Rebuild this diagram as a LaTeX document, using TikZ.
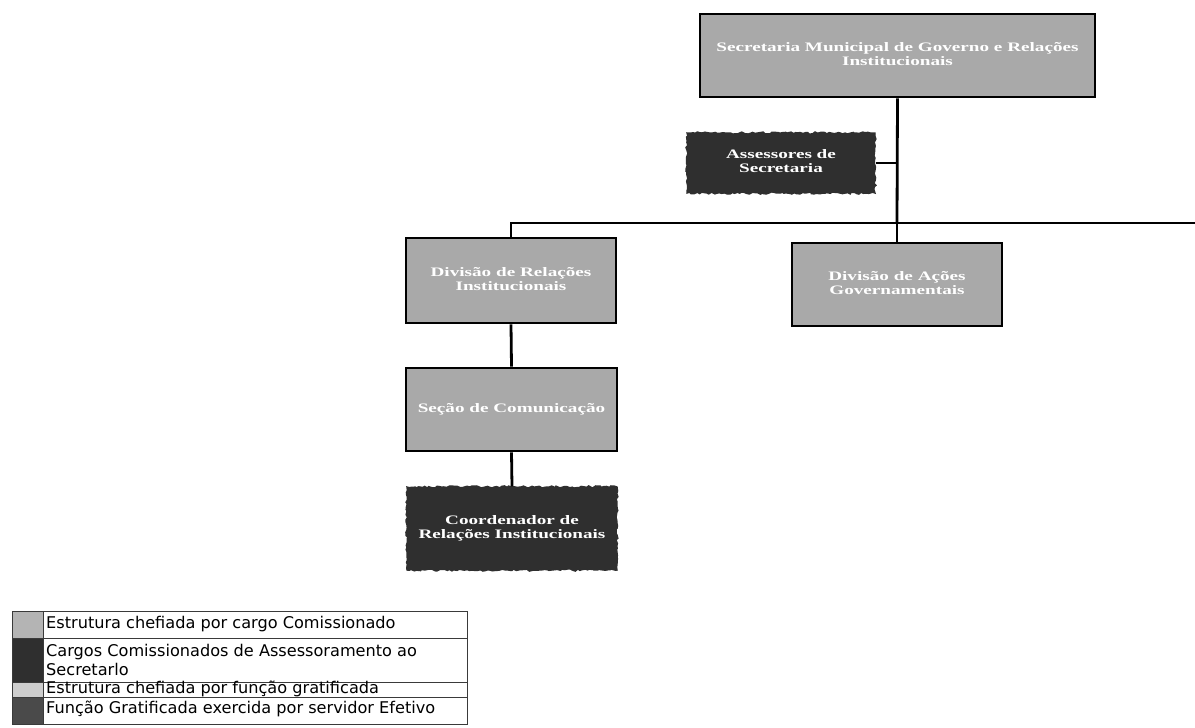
\documentclass[tikz,border=0pt]{standalone}
\usepackage{fontspec}
\setmainfont{Liberation Serif}
\newfontfamily\legendfont{DejaVu Sans}
\usetikzlibrary{decorations.pathmorphing}
\definecolor{boxgray}{HTML}{A9A9A9}
\definecolor{boxdark}{HTML}{2F2F2F}
\definecolor{swlight}{HTML}{B4B4B4}
\definecolor{swpale}{HTML}{CDCDCD}
\definecolor{swmid}{HTML}{4A4A4A}
\definecolor{rule}{HTML}{3A3A3A}
% wide bold white lettering used inside the chart boxes
\newcommand{\boxlabel}[1]{\scalebox{1.48}[1]{\begin{tabular}{@{}c@{}}#1\end{tabular}}}
\tikzset{
  orgbox/.style={draw=black, line width=2.8bp, fill=boxgray, text=white,
    inner sep=0pt, font=\fontsize{13}{14}\selectfont\bfseries},
  advbox/.style={draw=boxdark, fill=boxdark, line width=1.4bp, text=white,
    inner sep=0pt, font=\fontsize{13}{14}\selectfont\bfseries,
    decorate, decoration={random steps, segment length=2.5bp, amplitude=1.1bp}},
  link/.style={draw=black, line width=2.8bp},
  legtext/.style={anchor=base west, inner sep=0pt, font=\legendfont\fontsize{16.2}{18}\selectfont},
  legrule/.style={draw=rule, line width=1bp}
}
\begin{document}
\begin{tikzpicture}[x=1bp, y=-1bp]
\useasboundingbox[fill=white] (0,0) rectangle (1195,728);

% chart boxes
\node[orgbox, minimum width=395bp, minimum height=83bp] (sec) at (897.5,55.5)
  {\boxlabel{Secretaria Municipal de Governo e Relações\\Institucionais}};
\node[advbox, minimum width=188bp, minimum height=60bp] (assess) at (781,163)
  {\boxlabel{Assessores de\\Secretaria}};
\node[orgbox, minimum width=210bp, minimum height=85bp] (divrel) at (511,280.5)
  {\boxlabel{Divisão de Relações\\Institucionais}};
\node[orgbox, minimum width=210bp, minimum height=83bp] (divgov) at (897,284.5)
  {\boxlabel{Divisão de Ações\\Governamentais}};
\node[orgbox, minimum width=211bp, minimum height=83bp] (secao) at (511.5,409.5)
  {\boxlabel{Seção de Comunicação}};
\node[advbox, minimum width=210bp, minimum height=83bp] (coord) at (512,528.5)
  {\boxlabel{Coordenador de\\Relações Institucionais}};

% connectors
\coordinate (bus) at (897,223);
\coordinate (busend) at (1195,223);
\draw[link] (sec.south) -- (bus);
\draw[link] (assess.east) -- (assess.east -| bus);
\draw[link] (divrel.north) |- (busend);
\draw[link] (bus) -- (divgov.north);
\draw[link] (divrel.south) -- (secao.north);
\draw[link] (secao.south) -- (coord.north);

% legend
\fill[swlight] (12,611) rectangle (43,638);
\fill[boxdark] (12,638) rectangle (43,682);
\fill[swpale] (12,682) rectangle (43,697);
\fill[swmid] (12,697) rectangle (43,724);
\draw[legrule] (12,611) rectangle (467,724);
\draw[legrule] (43,611) -- (43,724);
\draw[legrule] (12,638) -- (467,638);
\draw[legrule] (12,682) -- (467,682);
\draw[legrule] (12,697) -- (467,697);
\node[legtext] (l1) at (46,628) {Estrutura chefiada por cargo Comissionado};
\node[legtext] (l2) at (46,656) {Cargos Comissionados de Assessoramento ao};
\node[legtext] (l2b) at (46,675) {Secretarlo};
\node[legtext] (l3) at (46,693) {Estrutura chefiada por função gratificada};
\node[legtext] (l4) at (46,713) {Função Gratificada exercida por servidor Efetivo};
\end{tikzpicture}
\end{document}
